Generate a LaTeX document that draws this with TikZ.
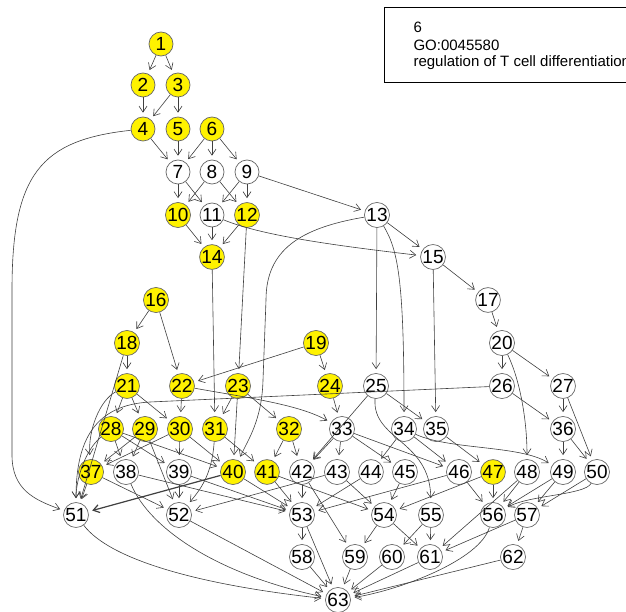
\documentclass[tikz,border=0pt]{standalone}
\usepackage{fontspec}
\setmainfont{Liberation Sans}
\usetikzlibrary{arrows.meta}

\begin{document}
\begin{tikzpicture}[x=1pt,y=-1pt,
  goterm/.style={circle,draw=black!60,line width=0.7pt,fill=white,minimum size=24pt,inner sep=0pt,font=\fontsize{19}{19}\selectfont},
  sigterm/.style={goterm,fill=yellow},
  link/.style={draw=black!75,line width=0.6pt,-{Straight Barb[length=6pt,width=8pt]},shorten >=4pt}]
\useasboundingbox (0,0) rectangle (626,612);
\fill[white] (0,0) rectangle (626,612);

\begin{scope}
\clip (0,0) rectangle (626,612);
\draw[line width=0.8pt] (384,7) rectangle (660,82);
\node[anchor=west,font=\fontsize{15}{15}\selectfont] (leg1) at (410,27) {6};
\node[anchor=west,font=\fontsize{15}{15}\selectfont] (leg2) at (410,45) {GO:0045580};
\node[anchor=west,font=\fontsize{15}{15}\selectfont] (leg3) at (410,63) {regulation of T cell differentiation};
\end{scope}

\node[sigterm] (n1) at (161,44) {1};
\node[sigterm] (n2) at (143,85) {2};
\node[sigterm] (n3) at (178,85) {3};
\node[sigterm] (n4) at (143,129) {4};
\node[sigterm] (n5) at (178,129) {5};
\node[sigterm] (n6) at (212,129) {6};
\node[goterm] (n7) at (178,172) {7};
\node[goterm] (n8) at (212,172) {8};
\node[goterm] (n9) at (247,172) {9};
\node[sigterm] (n10) at (178,215) {10};
\node[goterm] (n11) at (212,215) {11};
\node[sigterm] (n12) at (247,215) {12};
\node[goterm] (n13) at (377,215) {13};
\node[sigterm] (n14) at (212,257) {14};
\node[goterm] (n15) at (433,257) {15};
\node[sigterm] (n16) at (156,300) {16};
\node[goterm] (n17) at (488,300) {17};
\node[sigterm] (n18) at (127,343) {18};
\node[sigterm] (n19) at (316,343) {19};
\node[goterm] (n20) at (502,343) {20};
\node[sigterm] (n21) at (127,386) {21};
\node[sigterm] (n22) at (182,386) {22};
\node[sigterm] (n23) at (238,386) {23};
\node[sigterm] (n24) at (330,386) {24};
\node[goterm] (n25) at (376,386) {25};
\node[goterm] (n26) at (502,386) {26};
\node[goterm] (n27) at (563,386) {27};
\node[sigterm] (n28) at (111,429) {28};
\node[sigterm] (n29) at (145,429) {29};
\node[sigterm] (n30) at (180,429) {30};
\node[sigterm] (n31) at (215,429) {31};
\node[sigterm] (n32) at (289,429) {32};
\node[goterm] (n33) at (342,429) {33};
\node[goterm] (n34) at (404,429) {34};
\node[goterm] (n35) at (436,429) {35};
\node[goterm] (n36) at (563,429) {36};
\node[sigterm] (n37) at (91,472) {37};
\node[goterm] (n38) at (126,472) {38};
\node[goterm] (n39) at (179,472) {39};
\node[sigterm] (n40) at (233,472) {40};
\node[sigterm] (n41) at (267,472) {41};
\node[goterm] (n42) at (302,472) {42};
\node[goterm] (n43) at (337,472) {43};
\node[goterm] (n44) at (371,472) {44};
\node[goterm] (n45) at (405,472) {45};
\node[goterm] (n46) at (459,472) {46};
\node[sigterm] (n47) at (493,472) {47};
\node[goterm] (n48) at (527,472) {48};
\node[goterm] (n49) at (563,472) {49};
\node[goterm] (n50) at (597,472) {50};
\node[goterm] (n51) at (76,515) {51};
\node[goterm] (n52) at (179,515) {52};
\node[goterm] (n53) at (302,515) {53};
\node[goterm] (n54) at (384,515) {54};
\node[goterm] (n55) at (431,515) {55};
\node[goterm] (n56) at (493,515) {56};
\node[goterm] (n57) at (527,515) {57};
\node[goterm] (n58) at (302,557) {58};
\node[goterm] (n59) at (355,557) {59};
\node[goterm] (n60) at (392,557) {60};
\node[goterm] (n61) at (430,557) {61};
\node[goterm] (n62) at (513,557) {62};
\node[goterm] (n63) at (338,600) {63};

% top levels
\draw[link] (n1) -- (n2);
\draw[link] (n1) -- (n3);
\draw[link] (n2) -- (n4);
\draw[link] (n3) -- (n4);
\draw[link] (n3) -- (n5);
\draw[link] (n4) -- (n7);
\draw[link] (n5) -- (n7);
\draw[link] (n6) -- (n7);
\draw[link] (n6) -- (n8);
\draw[link] (n6) -- (n9);
\draw[link] (n4) .. controls (40,140) and (12,175) .. (12,290) -- (12,455) .. controls (12,490) and (35,500) .. (n51);
\draw[link] (n7) -- (n10);
\draw[link] (n7) -- (n11);
\draw[link] (n8) -- (n10);
\draw[link] (n8) -- (n12);
\draw[link] (n9) -- (n11);
\draw[link] (n9) -- (n12);
\draw[link] (n9) -- (n13);
\draw[link] (n10) -- (n14);
\draw[link] (n11) -- (n14);
\draw[link] (n12) -- (n14);
\draw[link] (n11) .. controls (260,235) and (330,245) .. (n15);
\draw[link] (n12) -- (n23);
\draw[link] (n13) -- (n15);
\draw[link] (n13) -- (n25);
\draw[link] (n13) .. controls (398,250) and (404,280) .. (n34);
\draw[link] (n13) .. controls (300,228) and (266,250) .. (266,300) -- (263,380) .. controls (262,420) and (248,440) .. (n40);
\draw[link] (n14) -- (n31);
\draw[link] (n15) -- (n17);
\draw[link] (n15) -- (n35);
\draw[link] (n16) -- (n18);
\draw[link] (n16) -- (n22);
\draw[link] (n17) -- (n20);
\draw[link] (n18) -- (n21);
\draw[link] (n18) -- (n51);
\draw[link] (n19) -- (n22);
\draw[link] (n19) -- (n24);
\draw[link] (n20) -- (n26);
\draw[link] (n20) -- (n27);
\draw[link] (n20) .. controls (520,380) and (527,420) .. (n48);

% middle levels
\draw[link] (n21) -- (n28);
\draw[link] (n21) -- (n29);
\draw[link] (n21) -- (n30);
\draw[link] (n21) .. controls (100,400) and (88,430) .. (n37);
\draw[link] (n22) -- (n30);
\draw[link] (n22) .. controls (250,398) and (300,405) .. (n33);
\draw[link] (n23) -- (n31);
\draw[link] (n23) -- (n32);
\draw[link] (n23) -- (n40);
\draw[link] (n24) -- (n33);
\draw[link] (n25) -- (n35);
\draw[link] (n25) -- (n42);
\draw[link] (n25) .. controls (372,440) and (430,440) .. (n55);
\draw[link] (n26) -- (150,402) .. controls (95,405) and (76,440) .. (n51);
\draw[link] (n26) -- (n36);
\draw[link] (n27) -- (n36);
\draw[link] (n27) -- (n50);
\draw[link] (n28) -- (n38);
\draw[link] (n28) -- (n39);
\draw[link] (n28) -- (n40);
\draw[link] (n28) .. controls (85,450) and (76,480) .. (n51);
\draw[link] (n29) -- (n37);
\draw[link] (n29) -- (n38);
\draw[link] (n29) -- (n52);
\draw[link] (n30) -- (n37);
\draw[link] (n30) -- (n39);
\draw[link] (n30) -- (n40);
\draw[link] (n31) -- (n41);
\draw[link] (n31) .. controls (212,475) and (200,490) .. (n52);
\draw[link] (n32) -- (n41);
\draw[link] (n32) -- (n42);
\draw[link] (n33) -- (n42);
\draw[link] (n33) -- (n43);
\draw[link] (n33) -- (n45);
\draw[link] (n33) -- (n46);
\draw[link] (n34) -- (n44);
\draw[link] (n34) -- (n46);
\draw[link] (n34) .. controls (450,450) and (520,445) .. (n49);
\draw[link] (n35) -- (n47);
\draw[link] (n36) -- (n49);
\draw[link] (n36) -- (n50);

% lower levels
\draw[link] (n37) -- (n51);
\draw[link] (n37) -- (n52);
\draw[link] (n38) -- (n53);
\draw[link] (n38) .. controls (150,530) and (220,575) .. (n63);
\draw[link] (n39) -- (n52);
\draw[link] (n39) -- (n53);
\draw[link,line width=1.2pt] (n40) -- (n51);
\draw[link] (n40) -- (n53);
\draw[link] (n41) -- (n53);
\draw[link] (n41) -- (n54);
\draw[link] (n42) -- (n53);
\draw[link] (n42) -- (n59);
\draw[link] (n43) -- (n52);
\draw[link] (n43) -- (n54);
\draw[link] (n44) -- (n53);
\draw[link] (n45) -- (n54);
\draw[link] (n46) -- (n53);
\draw[link] (n46) -- (n56);
\draw[link] (n47) -- (n54);
\draw[link] (n47) -- (n56);
\draw[link] (n48) -- (n56);
\draw[link] (n48) -- (n61);
\draw[link] (n49) -- (n56);
\draw[link] (n49) -- (n57);
\draw[link] (n50) .. controls (585,495) and (530,495) .. (n56);
\draw[link] (n50) -- (n57);
\draw[link] (n51) .. controls (110,560) and (200,585) .. (n63);
\draw[link] (n52) -- (n63);
\draw[link] (n53) -- (n58);
\draw[link] (n53) -- (n63);
\draw[link] (n54) -- (n59);
\draw[link] (n54) -- (n61);
\draw[link] (n55) -- (n60);
\draw[link] (n55) -- (n61);
\draw[link] (n56) .. controls (480,560) and (400,590) .. (n63);
\draw[link] (n57) -- (n61);
\draw[link] (n57) -- (n62);
\draw[link] (n58) -- (n63);
\draw[link] (n59) -- (n63);
\draw[link] (n60) -- (n63);
\draw[link] (n61) -- (n63);
\draw[link] (n62) -- (n63);

\end{tikzpicture}
\end{document}
